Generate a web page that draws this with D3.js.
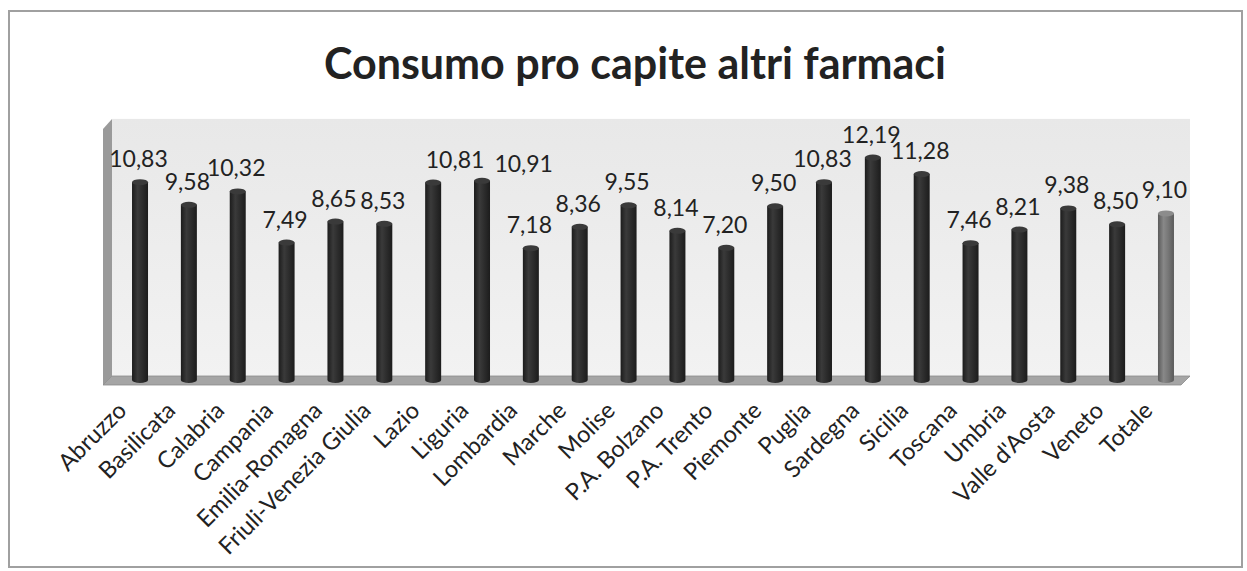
<!DOCTYPE html>
<html><head><meta charset="utf-8">
<script src="https://cdn.jsdelivr.net/npm/d3@7"></script>
<style>body{margin:0;background:#fff}svg{display:block}</style>
</head><body>
<script>
const categories = ["Abruzzo","Basilicata","Calabria","Campania","Emilia-Romagna","Friuli-Venezia Giulia","Lazio","Liguria","Lombardia","Marche","Molise","P.A. Bolzano","P.A. Trento","Piemonte","Puglia","Sardegna","Sicilia","Toscana","Umbria","Valle d'Aosta","Veneto","Totale"];
const values = [10.83,9.58,10.32,7.49,8.65,8.53,10.81,10.91,7.18,8.36,9.55,8.14,7.20,9.50,10.83,12.19,11.28,7.46,8.21,9.38,8.50,9.10];
const valueLabels = ["10,83","9,58","10,32","7,49","8,65","8,53","10,81","10,91","7,18","8,36","9,55","8,14","7,20","9,50","10,83","12,19","11,28","7,46","8,21","9,38","8,50","9,10"];
const title = "Consumo pro capite altri farmaci";

const W = 1247, H = 571;
const svg = d3.select("body").append("svg").attr("width", W).attr("height", H);
const defs = svg.append("defs");

function cylGrad(id, dark, mid, light) {
  const g = defs.append("linearGradient").attr("id", id).attr("x1", "0%").attr("x2", "100%");
  g.append("stop").attr("offset", "0%").attr("stop-color", dark);
  g.append("stop").attr("offset", "35%").attr("stop-color", light);
  g.append("stop").attr("offset", "65%").attr("stop-color", mid);
  g.append("stop").attr("offset", "100%").attr("stop-color", dark);
}
cylGrad("cylDark", "#1c1c1c", "#2c2c2c", "#3a3a3a");
cylGrad("cylGray", "#5a5a5a", "#767676", "#888");
const wallG = defs.append("linearGradient").attr("id", "wall").attr("x1", "0").attr("x2", "0").attr("y1", "0").attr("y2", "1");
wallG.append("stop").attr("offset", "0%").attr("stop-color", "#e8e8e8");
wallG.append("stop").attr("offset", "100%").attr("stop-color", "#f2f2f2");

// outer border
svg.append("rect").attr("x", 9).attr("y", 11).attr("width", 1233).attr("height", 556)
  .attr("fill", "none").attr("stroke", "#a0a0a0").attr("stroke-width", 2);

// title
svg.append("text").attr("x", 635).attr("y", 79).attr("text-anchor", "middle")
  .attr("font-family", "Lato, 'Open Sans', sans-serif").attr("font-weight", "bold")
  .attr("font-size", 43).attr("fill", "#222").text(title);

const x = d3.scalePoint().domain(categories).range([115.6, 1190.4]).padding(0.5);
const y = d3.scaleLinear().domain([0, 14]).range([378, 124.9]);

const depth = 9; // 3D offset
const wallL = 112, wallR = 1190;

// back wall
svg.append("rect").attr("x", wallL).attr("y", y(14) - 6).attr("width", wallR - wallL).attr("height", y(0) - y(14) + 6)
  .attr("fill", "url(#wall)");
// side wall
svg.append("path").attr("d", `M${wallL},${y(14)-6} L${wallL - depth},${y(14)+4} L${wallL - depth},${y(0)+7} L${wallL},${y(0)-2} Z`)
  .attr("fill", "#9a9a9a");
// floor
svg.append("path").attr("d", `M${wallL},${y(0)-2} L${wallR},${y(0)-2} L${wallR - depth},${y(0)+7} L${wallL - depth},${y(0)+7} Z`)
  .attr("fill", "#a5a5a5").attr("stroke", "#8a8a8a").attr("stroke-width", 0.8);

// bars (cylinders)
const bw = 16, ry = 3;
const bars = svg.append("g").selectAll("g").data(categories).join("g");
bars.append("path").attr("d", (d, i) => {
  const cx = x(d), top = y(values[i]), bot = y(0) + 2, r = bw / 2;
  return `M${cx - r},${top} L${cx - r},${bot} A${r},${ry} 0 0 0 ${cx + r},${bot} L${cx + r},${top} Z`;
}).attr("fill", (d, i) => i === categories.length - 1 ? "url(#cylGray)" : "url(#cylDark)");
bars.append("ellipse").attr("cx", d => x(d)).attr("cy", (d, i) => y(values[i]))
  .attr("rx", bw / 2).attr("ry", ry)
  .attr("fill", (d, i) => i === categories.length - 1 ? "#8c8c8c" : "#3a3a3a");

// value labels
const vl = svg.append("g").selectAll("text").data(categories).join("text")
  .attr("x", d => x(d) - 1.5).attr("y", (d, i) => y(values[i]) - 15)
  .attr("text-anchor", "middle").attr("font-family", "Lato, 'Open Sans', sans-serif")
  .attr("font-size", 23).attr("fill", "#222").text((d, i) => valueLabels[i]);

// overlap avoidance for labels at nearly the same height (like the spreadsheet's placement)
const nodes = vl.nodes();
const boxes = nodes.map(n => n.getBBox());
for (let i = 1; i < nodes.length; i++) {
  const a = boxes[i - 1], b = boxes[i];
  const overlap = a.x + a.width - b.x;
  if (overlap > 4 && Math.abs(a.y - b.y) < 8) {
    const shiftA = a.width * 0.4;
    nodes[i - 1].setAttribute("x", +nodes[i - 1].getAttribute("x") + shiftA);
    const newStart = a.x + shiftA + a.width + 10;
    nodes[i].setAttribute("x", +nodes[i].getAttribute("x") + (newStart - b.x));
    nodes[i].setAttribute("y", +nodes[i].getAttribute("y") + 6);
  }
}

// category labels
svg.append("g").selectAll("text").data(categories).join("text")
  .attr("transform", d => `translate(${x(d) - 12},${y(0) + 34}) rotate(-45)`)
  .attr("text-anchor", "end").attr("font-family", "Lato, 'Open Sans', sans-serif")
  .attr("font-size", 23.5).attr("fill", "#222").text(d => d);
</script>
</body></html>
